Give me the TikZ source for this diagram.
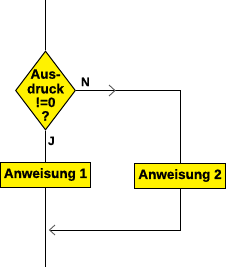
\documentclass[tikz,border=0pt]{standalone}
\usepackage{fontspec}
\setmainfont{Liberation Sans}[BoldFont={Liberation Sans Bold}]
\newfontfamily\boldarial{Liberation Sans Bold}[FakeBold=0.8]
\usetikzlibrary{shapes.geometric}
\begin{document}
\begin{tikzpicture}[x=1pt,y=-1pt,line width=1pt,
  box/.style={draw,fill=yellow,minimum width=90.5pt,minimum height=25pt,inner sep=0pt,
    font=\boldarial\fontsize{13.5}{14}\selectfont},
  dia/.style={draw,fill=yellow,diamond,minimum width=60pt,minimum height=79pt,inner sep=0pt},
  dtext/.style={anchor=base,inner sep=0pt,font=\boldarial\fontsize{13.5}{14}\selectfont},
  lab/.style={anchor=base west,inner sep=0pt,font=\boldarial\fontsize{12}{12}\selectfont},
  chev/.style={draw=black!65,line width=0.9pt}]
\useasboundingbox (0,0) rectangle (228,267);
\coordinate (top) at (45.5,0);
\coordinate (bot) at (45.5,267);
\node[dia] (d) at (45.5,90.5) {};
\node[dtext] (t1) at (45.5,78.7) {Aus-};
\node[dtext] (t2) at (45.5,93.4) {druck};
\node[dtext] (t3) at (45.5,107) {!=0};
\node[dtext] (t4) at (45.5,120.5) {?};
\node[box] (b1) at (45.5,174.5) {Anweisung 1};
\node[box] (b2) at (180,175.5) {Anweisung 2};
\node[lab] (n) at (80.5,86) {N};
\node[lab] (j) at (47.5,145) {J};
\coordinate (ret) at (49.5,230);
\draw (top) -- (d.north);
\draw (d.south) -- (b1.north);
\draw (b1.south) -- (bot);
\draw (d.east) -| (b2.north);
\draw (b2.south) |- (ret);
\draw[chev] (109,85) -- (115,90.5) -- (109,96);
\draw[chev] (55,225) -- (49.5,230) -- (55,235);
\end{tikzpicture}
\end{document}
